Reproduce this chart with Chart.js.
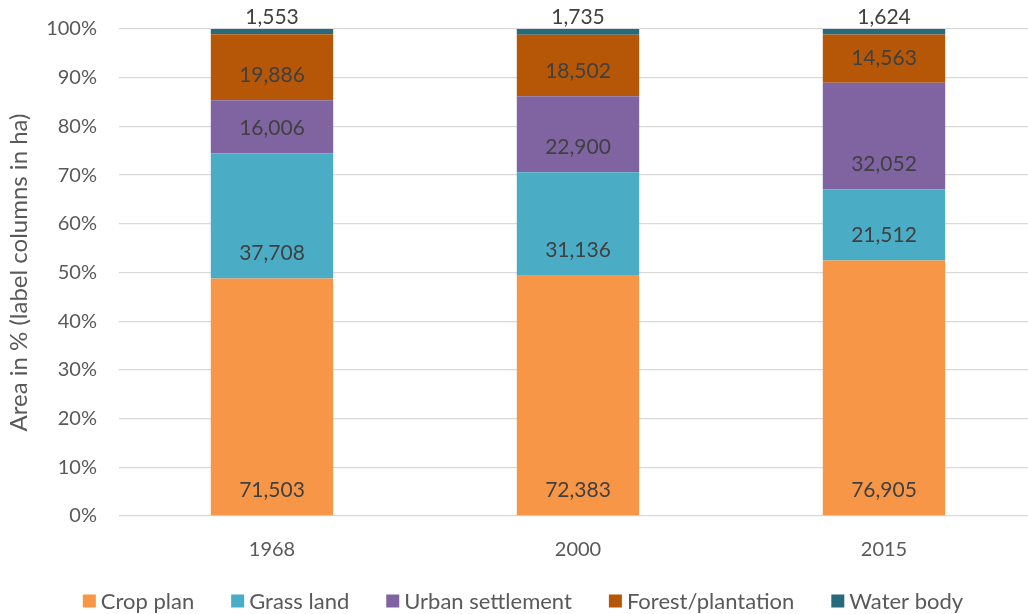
<!DOCTYPE html>
<html>
<head>
<meta charset="utf-8">
<title>Land use area</title>
<script src="https://cdn.jsdelivr.net/npm/chart.js@4/dist/chart.umd.min.js"></script>
<style>
    html, body { margin: 0; padding: 0; background: #fff; overflow: hidden; }
    #landUseChart { display: block; }
</style>
</head>
<body>
<canvas id="landUseChart" width="1037" height="614" style="width:1037px;height:614px"></canvas>
<script>
// Land use area per year, in hectares
const years = ['1968', '2000', '2015'];
const cropPlan = [71503, 72383, 76905];
const grassLand = [37708, 31136, 21512];
const urbanSettlement = [16006, 22900, 32052];
const forestPlantation = [19886, 18502, 14563];
const waterBody = [1553, 1735, 1624];

const seriesNames = ['Crop plan', 'Grass land', 'Urban settlement', 'Forest/plantation', 'Water body'];
const seriesColors = ['#F79646', '#4BACC6', '#8064A2', '#B65708', '#276A7C'];
const seriesValues = [cropPlan, grassLand, urbanSettlement, forestPlantation, waterBody];

const FONT = 'Lato, "Open Sans", sans-serif';

// totals per year, so every column stacks to 100%
const totals = years.map((_, i) => seriesValues.reduce((sum, s) => sum + s[i], 0));

function toPercent(values) {
    return values.map((v, i) => v / totals[i] * 100);
}

// ha values written on each segment, near the segment base
// (the top series sits above its column)
const haLabels = {
    id: 'haLabels',
    afterDatasetsDraw(chart) {
        const ctx = chart.ctx;
        const last = chart.data.datasets.length - 1;
        ctx.save();
        ctx.font = '21px ' + FONT;
        ctx.fillStyle = '#404040';
        ctx.textAlign = 'center';
        ctx.textBaseline = 'middle';
        chart.data.datasets.forEach((ds, i) => {
            const meta = chart.getDatasetMeta(i);
            meta.data.forEach((bar, j) => {
                const text = ds.haValues[j].toLocaleString('en-US');
                const y = i === last ? bar.y - 12 : bar.base - 25;
                ctx.fillText(text, bar.x, y);
            });
        });
        ctx.restore();
    }
};

// legend row along the bottom
const bottomLegend = {
    id: 'bottomLegend',
    afterDraw(chart) {
        const ctx = chart.ctx;
        const box = 13, gap = 5, spacing = 37;
        const y = 601;
        ctx.save();
        ctx.font = '22px ' + FONT;
        ctx.textBaseline = 'middle';
        const widths = chart.data.datasets.map(ds => box + gap + ctx.measureText(ds.label).width);
        const total = widths.reduce((a, b) => a + b, 0) + spacing * (widths.length - 1);
        let x = 523 - total / 2;
        chart.data.datasets.forEach((ds, i) => {
            ctx.fillStyle = ds.backgroundColor;
            ctx.fillRect(x, y - box / 2, box, box);
            ctx.fillStyle = '#595959';
            ctx.fillText(ds.label, x + box + gap, y + 1);
            x += widths[i] + spacing;
        });
        ctx.restore();
    }
};

const ctx = document.getElementById('landUseChart').getContext('2d');
const chart = new Chart(ctx, {
    type: 'bar',
    data: {
        labels: years,
        datasets: seriesNames.map((name, i) => ({
            label: name,
            data: toPercent(seriesValues[i]),
            haValues: seriesValues[i],
            backgroundColor: seriesColors[i],
            borderWidth: 0,
            categoryPercentage: 1,
            barPercentage: 0.4
        }))
    },
    options: {
        responsive: false,
        animation: false,
        layout: {
            padding: { top: 29, right: 0, bottom: 48, left: 0 }
        },
        plugins: {
            legend: { display: false },
            tooltip: { enabled: false }
        },
        scales: {
            x: {
                stacked: true,
                grid: { display: false, drawTicks: false },
                border: { display: false },
                ticks: {
                    color: '#595959',
                    font: { family: FONT, size: 20 },
                    padding: 22
                },
                afterFit(scale) { scale.height = 50; }
            },
            y: {
                stacked: true,
                min: 0,
                max: 100,
                grid: { color: '#D9D9D9', lineWidth: 1.3, drawTicks: false },
                border: { display: false },
                ticks: {
                    stepSize: 10,
                    color: '#595959',
                    font: { family: FONT, size: 20 },
                    padding: 22,
                    callback: v => v + '%'
                },
                title: {
                    display: true,
                    text: 'Area in % (label columns in ha)',
                    color: '#595959',
                    font: { family: FONT, size: 24 },
                    padding: { top: 5, bottom: 0 }
                },
                afterFit(scale) {
                    scale.width = 119;
                    scale.paddingTop = 0;
                    scale.paddingBottom = 0;
                }
            }
        }
    },
    plugins: [haLabels, bottomLegend]
});
</script>
</body>
</html>
